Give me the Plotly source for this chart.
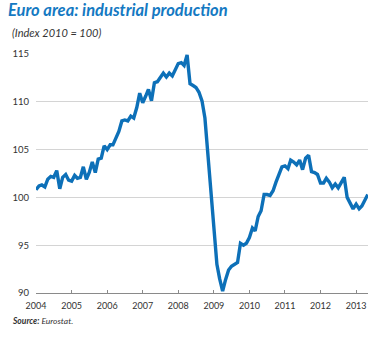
import pandas as pd
import plotly.graph_objects as go

# Monthly index values (2010 = 100), Jan 2004 - May 2013
values_2004 = [100.8, 101.2, 101.3, 101.1, 101.9, 102.2, 102.1, 102.8, 100.9, 102.1, 102.4, 101.8]
values_2005 = [101.7, 102.3, 102.0, 102.1, 103.2, 101.9, 102.6, 103.7, 102.6, 104.0, 104.1, 105.4]
values_2006 = [105.0, 105.5, 105.5, 106.3, 106.9, 108.0, 108.1, 108.0, 108.5, 108.3, 109.4, 110.9]
values_2007 = [109.9, 110.6, 111.3, 110.1, 112.0, 112.1, 112.5, 113.0, 112.6, 113.0, 112.7, 113.4]
values_2008 = [114.0, 114.1, 113.8, 114.9, 111.9, 111.7, 111.5, 111.0, 110.1, 108.3, 104.5, 100.0]
values_2009 = [96.0, 93.0, 91.5, 90.2, 91.4, 92.4, 92.8, 93.0, 93.2, 95.2, 95.0, 95.2]
values_2010 = [95.8, 96.8, 96.5, 98.0, 98.6, 100.3, 100.3, 100.2, 100.7, 101.6, 102.5, 103.2]
values_2011 = [103.3, 103.0, 103.9, 103.7, 103.4, 103.9, 102.9, 104.1, 104.4, 102.7, 102.6, 102.4]
values_2012 = [101.5, 101.5, 102.0, 101.6, 101.0, 101.4, 101.0, 101.6, 102.1, 100.0, 99.4, 98.8]
values_2013 = [99.3, 98.8, 99.1, 99.8, 100.3]

values = (values_2004 + values_2005 + values_2006 + values_2007 + values_2008
          + values_2009 + values_2010 + values_2011 + values_2012 + values_2013)
months = pd.date_range("2004-01-01", periods=len(values), freq="MS")

year_ticks = [f"{y}-01-01" for y in range(2004, 2014)]
year_labels = [str(y) for y in range(2004, 2014)]
y_ticks = [90, 95, 100, 105, 110, 115]

W, H = 382, 338
ML, MR, MT, MB = 34, 14, 54, 45
PW, PH = W - ML - MR, H - MT - MB

def px_x(px):
    return (px - ML) / PW

def px_y(py):
    return 1 - (py - MT) / PH

BLUE_LINE = "#0d70b8"
BLUE_TITLE = "#1479c2"
TEXT = "#333333"
FONT = "Lato"

fig = go.Figure()
fig.add_trace(go.Scatter(
    x=months, y=values, mode="lines",
    line=dict(color=BLUE_LINE, width=3.4),
    hoverinfo="skip", showlegend=False,
))

fig.update_layout(
    width=W, height=H,
    margin=dict(l=ML, r=MR, t=MT, b=MB, pad=0),
    paper_bgcolor="white", plot_bgcolor="white",
    font=dict(family=FONT, size=9, color=TEXT),
    title=dict(
        text="<b><i>Euro area: industrial production</i></b>",
        font=dict(family=FONT, size=16.5, color=BLUE_TITLE),
        x=8 / W, xanchor="left", xref="container",
        y=1 - 4.5 / H, yanchor="top", yref="container",
    ),
    xaxis=dict(
        type="date",
        range=["2004-01-01", "2013-05-03"],
        tickvals=year_ticks, ticktext=year_labels,
        ticks="inside", ticklen=3, tickwidth=1, tickcolor="#8a8a8a",
        showline=True, linecolor="#8a8a8a", linewidth=1,
        showgrid=False, zeroline=False,
        ticklabelstandoff=4,
        tickfont=dict(family=FONT, size=9, color=TEXT),
    ),
    yaxis=dict(
        range=[90, 115],
        tickvals=y_ticks,
        ticks="", showline=False,
        showgrid=True, gridcolor="#d4d4d4", gridwidth=1,
        zeroline=False,
        ticklabelstandoff=6,
        tickfont=dict(family=FONT, size=9.5, color=TEXT),
    ),
    annotations=[
        dict(text="<i>(Index 2010 = 100)</i>", xref="paper", yref="paper",
             x=px_x(8), y=px_y(24), xanchor="left", yanchor="top",
             showarrow=False, font=dict(family=FONT, size=11, color=TEXT)),
        dict(text="<b><i>Source:</i></b><i> Eurostat.</i>", xref="paper", yref="paper",
             x=px_x(8), y=px_y(314), xanchor="left", yanchor="top",
             showarrow=False, font=dict(family=FONT, size=8.5, color=TEXT)),
    ],
)

fig.write_html("out.html")
